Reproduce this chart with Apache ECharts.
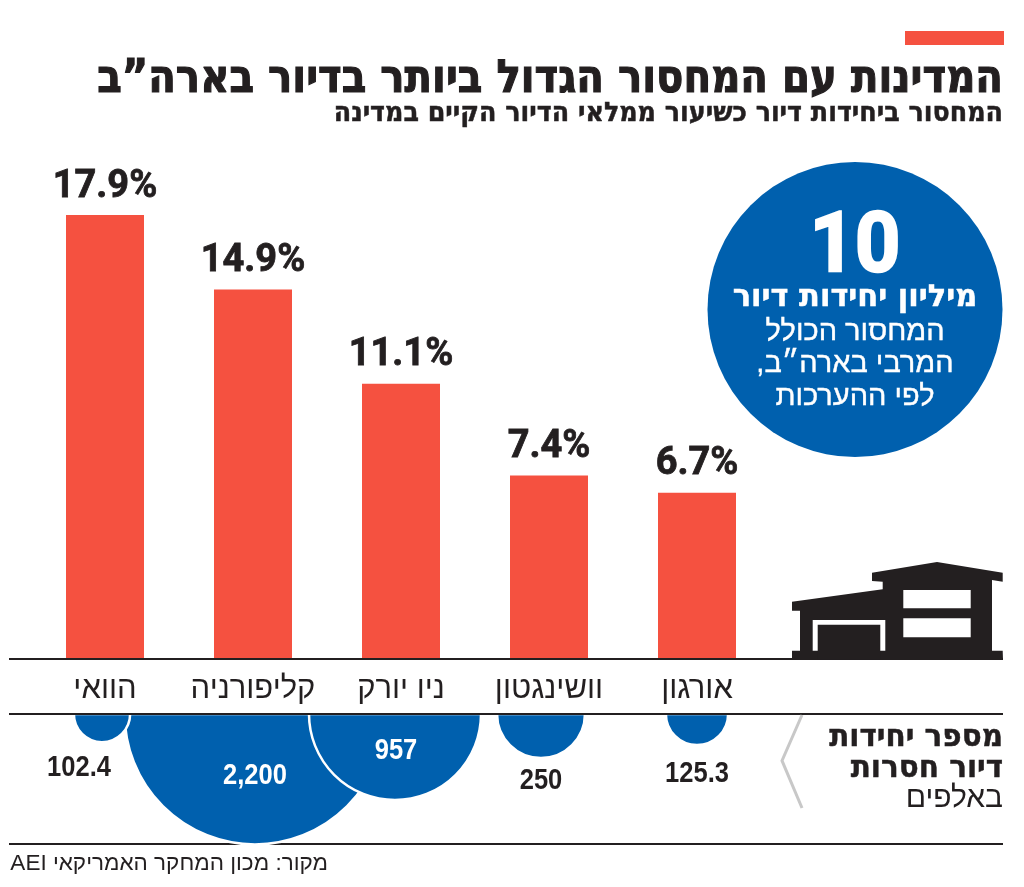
<!DOCTYPE html>
<html dir="rtl" lang="he">
<head>
    <meta charset="UTF-8">
    <title>המדינות עם המחסור הגדול ביותר בדיור בארה״ב</title>
    <style>
        html, body { margin: 0; padding: 0; background: #fff; }
    </style>
</head>
<body>
    <div id="main" style="width: 1024px;height:887px;"></div>
    <script src="https://cdn.jsdelivr.net/npm/echarts@6/dist/echarts.min.js"></script>
    <script type="text/javascript">
        // data
        const categories = ['הוואי', 'קליפורניה', 'ניו יורק', 'וושינגטון', 'אורגון'];
        const shortagePct = [17.9, 14.9, 11.1, 7.4, 6.7];
        const missingUnits = [102.4, 2200, 957, 250, 125.3];
        const missingLabels = ['102.4', '2,200', '957', '250', '125.3'];

        const RED = '#f55140';
        const BLUE = '#0060ae';
        const INK = '#231f20';
        const HEBREW = '"Liberation Sans", sans-serif';
        const HEAVY = '"DejaVu Sans", sans-serif';

        // bubbles sit slightly off the bar centres, labels are placed by hand
        const bubbleShift = [-3, 2, -6, -8, 0];
        const labelShift = [[-23, 54], [0, 62], [1, 37], [0, 67], [0, 60]];

        // area of the bubble follows the value
        const bubbleRadius = v => 2.78 * Math.sqrt(v);

        // biggest first so the small ones are painted on top
        const bubbleOrder = categories.map((c, i) => i).sort((a, b) => missingUnits[b] - missingUnits[a]);
        const bubbleData = bubbleOrder.map(i => [i, 0, missingUnits[i]]);

        function renderBubble(params, api) {
            const i = bubbleOrder[params.dataIndex];
            const c = api.coord([api.value(0), api.value(1)]);
            const cx = c[0] + bubbleShift[i];
            return {
                type: 'group',
                children: [
                    {
                        type: 'sector',
                        shape: { cx: cx, cy: c[1], r0: 0, r: bubbleRadius(api.value(2)), startAngle: 0, endAngle: Math.PI },
                        style: { fill: BLUE, stroke: '#fff', lineWidth: 2.5 }
                    },
                    {
                        type: 'text',
                        x: cx + labelShift[i][0],
                        y: c[1] + labelShift[i][1],
                        scaleX: 0.88,
                        z2: 10,
                        style: {
                            text: missingLabels[i],
                            align: 'center',
                            verticalAlign: 'middle',
                            fontFamily: HEBREW,
                            fontWeight: 'bold',
                            fontSize: 29,
                            fill: (i === 1 || i === 2) ? '#fff' : INK
                        }
                    }
                ]
            };
        }

        function txt(text, x, y, size, opts) {
            opts = opts || {};
            return {
                type: 'text',
                x: x,
                y: y,
                z: 20,
                scaleX: opts.scaleX || 1,
                scaleY: opts.scaleY || 1,
                style: {
                    text: text,
                    x: 0,
                    y: 0,
                    align: opts.align || 'right',
                    verticalAlign: 'middle',
                    fontFamily: opts.family || HEBREW,
                    fontWeight: opts.weight || 'normal',
                    fontSize: size,
                    fill: opts.fill || INK,
                    stroke: opts.bold ? (opts.fill || INK) : null,
                    lineWidth: opts.bold || 0
                }
            };
        }

        function rule(y) {
            return {
                type: 'line',
                z: 15,
                shape: { x1: 9, y1: y, x2: 1003, y2: y },
                style: { stroke: INK, lineWidth: 2 }
            };
        }

        const graphics = [
            { type: 'rect', z: 1, shape: { x: 905, y: 31, width: 99, height: 14 }, style: { fill: RED } },
            txt('המדינות עם המחסור הגדול ביותר בדיור בארה”ב', 1003, 80, 46, { family: HEAVY, weight: 'bold', scaleX: 0.876, bold: 1.2 }),
            txt('המחסור ביחידות דיור כשיעור ממלאי הדיור הקיים במדינה', 1003, 114, 27, { family: HEAVY, weight: 'bold', scaleX: 0.94, bold: 0.5 }),

            // circle with the national number
            { type: 'circle', z: 1, shape: { cx: 855, cy: 309.5, r: 147.5 }, style: { fill: BLUE } },
            txt('10', 855, 250, 84, { align: 'center', family: 'Roboto', weight: 'bold', fill: '#fff', scaleX: 0.94, bold: 2.5 }),
            txt('מיליון יחידות דיור', 855, 298, 30.5, { align: 'center', family: HEAVY, weight: 'bold', fill: '#fff', bold: 0.5 }),
            txt('המחסור הכולל', 855, 332, 29, { align: 'center', fill: '#fff', bold: 0.4 }),
            txt('המרבי בארה״ב,', 855, 364, 29, { align: 'center', fill: '#fff', bold: 0.4 }),
            txt('לפי ההערכות', 855, 397, 29, { align: 'center', fill: '#fff', bold: 0.4 }),

            rule(659),
            rule(714),
            { type: 'line', z: 1, shape: { x1: 9, y1: 844, x2: 1003, y2: 844 }, style: { stroke: INK, lineWidth: 2 } },

            // house icon
            {
                type: 'polygon', z: 16,
                shape: { points: [[872, 572.7], [937, 562], [1002.7, 572.7], [1002.7, 581.7], [992, 580], [992, 650.7], [1002.7, 650.7], [1003, 660], [792, 660], [792, 650.7], [800, 650.7], [800, 610.7], [792, 610.7], [792, 601.7], [882.7, 589.3], [882.7, 581.7], [872, 581]] },
                style: { fill: INK }
            },
            { type: 'rect', z: 17, shape: { x: 903.3, y: 590, width: 67.4, height: 18.3 }, style: { fill: '#fff' } },
            { type: 'rect', z: 17, shape: { x: 903.3, y: 618.3, width: 67.4, height: 19 }, style: { fill: '#fff' } },
            { type: 'rect', z: 17, shape: { x: 812.7, y: 620, width: 72.6, height: 30.7 }, style: { fill: '#fff' } },
            { type: 'rect', z: 18, shape: { x: 817.7, y: 624.7, width: 62.6, height: 35 }, style: { fill: INK } },

            // side note
            {
                type: 'polyline', z: 16,
                shape: { points: [[802, 715], [782, 760.7], [802, 808]] },
                style: { stroke: '#c8c8c8', lineWidth: 3, fill: 'none' }
            },
            txt('מספר יחידות', 1003, 738, 31, { family: HEAVY, weight: 'bold', scaleX: 0.95, bold: 0.5 }),
            txt('דיור חסרות', 1003, 769, 31, { family: HEAVY, weight: 'bold', scaleX: 0.95, bold: 0.5 }),
            txt('באלפים', 1003, 799, 30),

            txt('מקור: מכון המחקר האמריקאי AEI', 328, 864, 22.5)
        ];

        var myChart = echarts.init(document.getElementById('main'));

        let option = {
            animation: false,
            backgroundColor: '#fff',
            grid: [
                { left: 31, width: 740, top: 163, height: 496 },
                { left: 31, width: 740, top: 714, height: 140 }
            ],
            xAxis: [
                {
                    type: 'category',
                    gridIndex: 0,
                    data: categories,
                    axisLine: { show: false },
                    axisTick: { show: false },
                    axisLabel: { interval: 0, fontFamily: HEBREW, fontSize: 31, color: INK, margin: 15 }
                },
                { type: 'category', gridIndex: 1, data: categories, show: false }
            ],
            yAxis: [
                { type: 'value', gridIndex: 0, min: 0, max: 20, show: false },
                { type: 'value', gridIndex: 1, min: 0, max: 140, inverse: true, show: false }
            ],
            series: [
                {
                    type: 'bar',
                    xAxisIndex: 0,
                    yAxisIndex: 0,
                    data: shortagePct,
                    barWidth: 78,
                    itemStyle: { color: RED },
                    label: {
                        show: true,
                        position: 'top',
                        distance: 9,
                        formatter: '{c}%',
                        fontFamily: 'Roboto',
                        fontWeight: 'bold',
                        fontSize: 38,
                        color: INK,
                        textBorderColor: INK,
                        textBorderWidth: 0.8
                    }
                },
                {
                    type: 'custom',
                    xAxisIndex: 1,
                    yAxisIndex: 1,
                    data: bubbleData,
                    clip: false,
                    renderItem: renderBubble
                }
            ],
            graphic: { elements: graphics }
        };

        myChart.setOption(option);
    </script>
</body>
</html>
